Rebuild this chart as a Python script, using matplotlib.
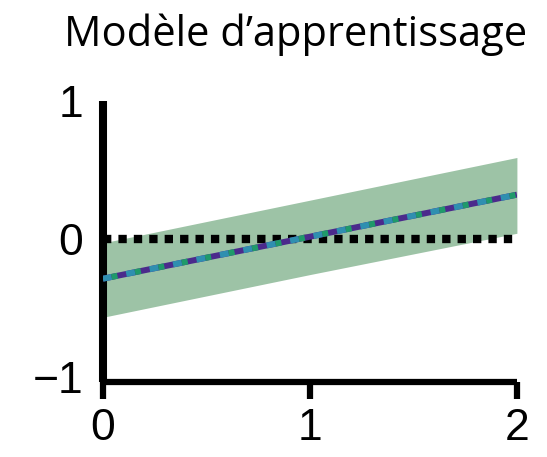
import matplotlib
matplotlib.use("Agg")
import matplotlib.pyplot as plt

title = "Modèle d\u2019apprentissage"
x = [0, 1, 2]
mean = [-0.29, 0.015, 0.32]
upper = [-0.03, 0.28, 0.59]
lower = [-0.57, -0.26, 0.04]
ref_y = 0
xticks = [0, 1, 2]
yticks = [-1, 0, 1]
ytick_labels = ["\u22121", "0", "1"]

fig = plt.figure(figsize=(5.47, 4.57), dpi=100)
ax = fig.add_axes([0.188, 0.164, 0.757, 0.615])

ax.fill_between(x, lower, upper, color="#9dc3a6", lw=0, zorder=1)
ax.plot([x[0], x[-1]], [ref_y, ref_y], color="black", lw=6.0,
        linestyle=(0, (1, 0.85)), dash_capstyle="butt", zorder=2)
ax.plot(x, mean, color="#4b2a8c", lw=4.3, solid_capstyle="butt", zorder=3)
ax.plot(x, mean, color="#2f8fb0", lw=4.3, linestyle=(0, (1.5, 2.5)),
        dash_capstyle="butt", zorder=4)
ax.plot(x, mean, color="#1f9a6a", lw=4.3, linestyle=(-1.5, (1.0, 3.0)),
        dash_capstyle="butt", zorder=5)

ax.set_xlim(0, 2)
ax.set_ylim(-1.04, 1)
for s in ["top", "right"]:
    ax.spines[s].set_visible(False)
ax.spines["left"].set_linewidth(5.8)
ax.spines["bottom"].set_linewidth(4.5)
ax.spines["left"].set_bounds(-1.04, 1)
ax.spines["left"].set_capstyle("butt")
ax.spines["bottom"].set_capstyle("butt")

ax.set_xticks(xticks)
ax.set_xticklabels([str(v) for v in xticks], fontsize=32, family="Liberation Sans")
ax.set_yticks(yticks)
ax.set_yticklabels(ytick_labels, fontsize=32, family="Liberation Sans")
ax.tick_params(axis="x", length=12, width=4.5, pad=7, direction="out")
ax.tick_params(axis="y", length=0, pad=14)

fig.text(0.54, 0.923, title, ha="center", va="center", fontsize=30,
         family="Open Sans")

fig.savefig("out.png", dpi=100)
